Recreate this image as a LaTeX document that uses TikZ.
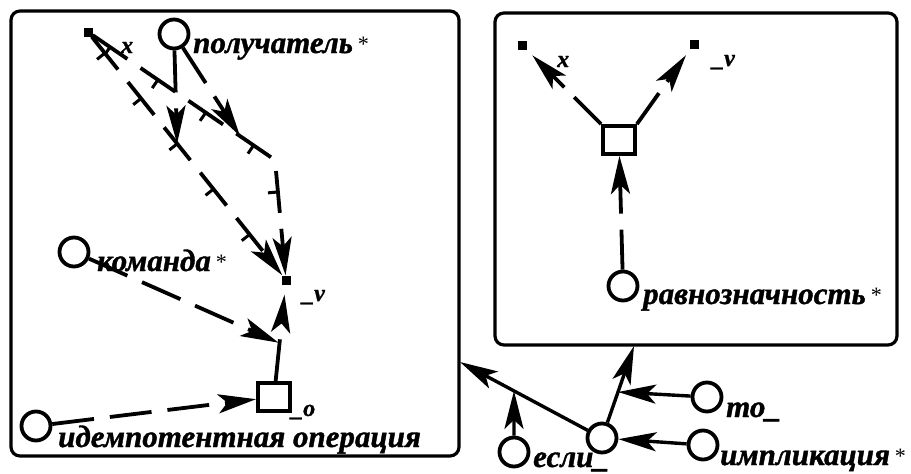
\documentclass[tikz,border=0pt]{standalone}
\usepackage{fontspec}
\setmainfont{Liberation Serif}[BoldItalicFeatures={FakeBold=1.2}]
\usetikzlibrary{arrows.meta,decorations.markings,calc}
\newcommand{\mystar}{\hspace{4pt}\raisebox{2pt}{\mdseries\fontsize{22}{22}\selectfont*}}
\begin{document}
\begin{tikzpicture}[x=1pt,y=-1pt,
  frame/.style={draw,line width=3.2pt,rounded corners=9pt},
  cnode/.style={draw,circle,line width=3.8pt,minimum size=29pt,inner sep=0pt},
  pnode/.style={fill=black,minimum size=9pt,inner sep=0pt},
  onode/.style={draw,rectangle,line width=3.8pt,minimum width=32pt,minimum height=28pt,inner sep=0pt},
  lbl/.style={anchor=base west,inner sep=0pt,font=\fontsize{31}{31}\selectfont\bfseries\itshape},
  slbl/.style={anchor=base west,inner sep=0pt,font=\fontsize{24}{24}\selectfont\bfseries\itshape},
  tip/.style={-{Stealth[length=38pt,width=19pt,inset=9pt]}},
  varc/.style={line width=3.8pt,dash pattern=on 42pt off 16pt,tip},
  carc/.style={line width=3.4pt,tip},
  ticks/.style={postaction={decorate,decoration={markings,
     mark=between positions 21pt and -40pt step 58pt with
     {\draw[solid,line width=3pt,-] (0pt,0pt) -- (0pt,-10pt);}}}}
]
\useasboundingbox (0,0) rectangle (911,474);
% frames
\draw[frame] (11,11) rectangle (459,456);
\draw[frame] (495,13) rectangle (897,345);
% left frame nodes
\node[pnode] (X1) at (88,32) {};
\node[cnode] (Pol) at (174,34) {};
\node[cnode] (Kom) at (74,252) {};
\node[cnode] (Idem) at (36,426) {};
\node[pnode] (V1) at (286,280) {};
\node[onode] (Op) at (274,397) {};
\coordinate (B) at (275,160);
\coordinate (P1) at ($(X1)!0.45!(V1)$);
\coordinate (P2) at ($(X1)!0.813!(B)$);
\coordinate (K) at ($(Op.north)!0.38!(V1)$);
% left labels
\node[slbl] (Lx1) at (121,53) {x};
\node[lbl] (Lpol) at (193,53) {получатель\mystar};
\node[lbl] (Lkom) at (97,271) {команда\mystar};
\node[slbl] (Lv1) at (302,301) {\_v};
\node[slbl] (Lo) at (291,416) {\_o};
\node[lbl] (Lidem) at (58,447) {идемпотентная операция};
% left arcs
\draw[varc,ticks] (X1) -- (V1);
\draw[varc,ticks] (X1) -- (B) -- (V1);
\draw[varc] (Pol) -- (P1);
\draw[varc] (Pol) -- (P2);
\draw[varc,ticks,shorten >=10pt] (Op) -- (V1);
\draw[varc] (Kom) -- (K);
\draw[varc] (Idem) -- (Op);
% right frame nodes
\node[pnode] (X2) at (522,45) {};
\node[pnode] (V2) at (694,44) {};
\node[onode] (Op2) at (619,140) {};
\node[cnode] (Rav) at (623,286) {};
\node[slbl] (Lx2) at (557,67) {x};
\node[slbl] (Lv2) at (712,66) {\_v};
\node[lbl] (Lrav) at (643,304) {равнозначность\mystar};
\draw[varc,dash pattern=on 38pt off 14pt,shorten >=8pt] (Op2.north west) -- (X2);
\draw[varc,dash pattern=on 38pt off 14pt,shorten >=8pt] (Op2.north east) -- (V2);
\draw[varc,dash pattern=on 40pt off 16pt] (Rav) -- (Op2);
% bottom nodes
\node[cnode] (Esli) at (514,452) {};
\node[cnode] (Cen) at (602,438) {};
\node[cnode] (To) at (707,397) {};
\node[cnode] (Impl) at (703,445) {};
\coordinate (LF) at (460,362);
\coordinate (RF) at (634,346);
\coordinate (E1) at ($(Cen)!0.62!(LF)$);
\coordinate (T1) at ($(Cen)!0.5!(RF)$);
\node[lbl] (Lesli) at (533,467) {если\_};
\node[lbl] (Lto) at (726,417) {то\_};
\node[lbl] (Limpl) at (720,465) {импликация\mystar};
\draw[carc] (Cen) -- (LF);
\draw[carc] (Esli) -- (E1);
\draw[carc] (Cen) -- (RF);
\draw[carc] (To) -- (T1);
\draw[carc] (Impl) -- (Cen);
\end{tikzpicture}
\end{document}
